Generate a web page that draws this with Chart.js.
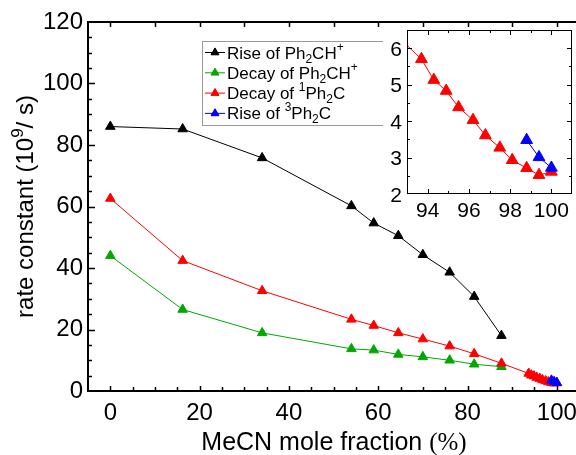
<!DOCTYPE html>
<html>
<head>
<meta charset="utf-8">
<script src="https://cdn.jsdelivr.net/npm/chart.js@4.4.1/dist/chart.umd.min.js"></script>
<style>
body{margin:0;background:#fff;}
#wrap{position:relative;width:576px;height:455px;}
#inset{position:absolute;left:383px;top:27px;}
</style>
</head>
<body>
<div id="wrap">
<canvas id="main" width="576" height="455"></canvas>
<canvas id="inset" width="193" height="198"></canvas>
</div>
<script>
// MeCN mole fraction (%)
const mole = [0, 16.2, 34, 54, 59, 64.5, 70, 76, 81.5, 87.6];
const moleRich = [93.7, 94.3, 94.9, 95.5, 96.2, 96.8, 97.5, 98.1, 98.8, 99.4, 100];
const moleTriplet = [98.8, 99.4, 100];

// rate constants (10^9 / s)
const riseCation = [86, 85.2, 75.8, 60.2, 54.6, 50.5, 44.3, 38.6, 30.7, 18];
const decayCation = [44, 26.5, 18.9, 13.7, 13.3, 11.9, 11.1, 10.0, 8.7, 7.9];
const decaySinglet = [62.6, 42.4, 32.6, 23.3, 21.3, 18.9, 16.9, 14.6, 12.1, 9.0,
                      5.70, 5.13, 4.83, 4.38, 4.03, 3.61, 3.27, 2.93, 2.71, 2.52, 2.61];
const riseTriplet = [3.48, 3.01, 2.72];

const seriesNames = ['Rise of Ph_2CH^+', 'Decay of Ph_2CH^+', 'Decay of ^1Ph_2C', 'Rise of ^3Ph_2C'];
const seriesColors = ['#000000', '#00a800', '#ff0000', '#0000ff'];

const xTicks = [0, 20, 40, 60, 80, 100];
const yTicks = [0, 20, 40, 60, 80, 100, 120];
const insetXTicks = [94, 96, 98, 100];
const insetYTicks = [2, 3, 4, 5, 6];

const FAMILY = '"Liberation Sans", Arial, sans-serif';

function pts(xs, ys){
    return ys.map((y, i) => ({x: xs[i], y: y}));
}

function parseRich(s){
    const out = [];
    let buf = '';
    for(let i = 0; i < s.length; i++){
        const ch = s[i];
        if((ch === '_' || ch === '^') && i + 1 < s.length){
            if(buf){ out.push({t: buf, k: 'n'}); buf = ''; }
            out.push({t: s[i+1], k: ch === '_' ? 'sub' : 'sup'});
            i++;
        } else buf += ch;
    }
    if(buf) out.push({t: buf, k: 'n'});
    return out;
}

function drawRich(ctx, parts, x, y, o, measureOnly){
    let cx = x;
    parts.forEach(p => {
        const fs = p.k === 'n' ? o.size : o.small;
        ctx.font = fs + 'px ' + (p.fam || FAMILY);
        const dy = p.k === 'sub' ? o.subDy : p.k === 'sup' ? o.supDy : 0;
        if(!measureOnly) ctx.fillText(p.t, cx, y + dy);
        cx += ctx.measureText(p.t).width;
    });
    return cx - x;
}

function drawTicks(ctx, scale, from, to, step, majorEvery, pos, edge, lenMajor, lenMinor){
    for(let v = from; v <= to + 1e-9; v += step){
        const p = Math.round(scale.getPixelForValue(v)) + 0.5;
        const major = Math.abs(v / majorEvery - Math.round(v / majorEvery)) < 1e-6;
        const len = major ? lenMajor : lenMinor;
        ctx.beginPath();
        if(pos === 'left'){ ctx.moveTo(edge, p); ctx.lineTo(edge + len, p); }
        if(pos === 'right'){ ctx.moveTo(edge, p); ctx.lineTo(edge - len, p); }
        if(pos === 'bottom'){ ctx.moveTo(p, edge); ctx.lineTo(p, edge - len); }
        if(pos === 'top'){ ctx.moveTo(p, edge); ctx.lineTo(p, edge + len); }
        ctx.stroke();
    }
}

function dataset(i, data, order, radius){
    return {
        label: seriesNames[i],
        data: data,
        borderColor: seriesColors[i],
        backgroundColor: seriesColors[i],
        borderWidth: 1,
        pointStyle: 'triangle',
        pointRadius: radius,
        pointBorderWidth: 1,
        order: order
    };
}

const framePlugin = {
    id: 'mainFrame',
    afterDraw(chart){
        const ctx = chart.ctx;
        const a = chart.chartArea;
        const sx = chart.scales.x, sy = chart.scales.y;
        ctx.save();
        ctx.strokeStyle = '#000';
        ctx.lineWidth = 2;
        ctx.beginPath();
        ctx.moveTo(576, a.top); ctx.lineTo(a.left, a.top);
        ctx.lineTo(a.left, a.bottom); ctx.lineTo(576, a.bottom);
        ctx.stroke();
        ctx.lineWidth = 1.5;
        drawTicks(ctx, sy, 5, 115, 5, 20, 'left', a.left, 7, 4);
        drawTicks(ctx, sx, 0, 100, 5, 20, 'bottom', a.bottom, 5, 4);
        drawTicks(ctx, sx, 0, 100, 10, 20, 'top', a.top, 5, 5);

        // legend
        ctx.lineWidth = 1;
        ctx.strokeStyle = '#9a9a9a';
        ctx.fillStyle = '#fff';
        ctx.fillRect(202.5, 41.5, 200, 84);
        ctx.strokeRect(202.5, 41.5, 200, 84);
        seriesNames.forEach((name, i) => {
            const base = 58.5 + i * 20.3;
            const cy = base - 6;
            ctx.strokeStyle = seriesColors[i];
            ctx.fillStyle = seriesColors[i];
            ctx.beginPath(); ctx.moveTo(205, cy); ctx.lineTo(225, cy); ctx.stroke();
            Chart.helpers.drawPoint(ctx, {pointStyle: 'triangle', radius: 4.6, borderWidth: 1}, 215, cy);
            ctx.fill();
            ctx.fillStyle = '#000';
            ctx.textBaseline = 'alphabetic';
            ctx.textAlign = 'left';
            drawRich(ctx, parseRich(name), 227, base, {size: 17, small: 12, subDy: 4, supDy: -8});
        });

        // axis titles
        ctx.fillStyle = '#000';
        ctx.textAlign = 'left';
        ctx.textBaseline = 'alphabetic';
        const yParts = parseRich('rate constant (10^9/ s)');
        const yo = {size: 24, small: 17, subDy: 4, supDy: -10};
        ctx.save();
        ctx.translate(33, 206.5);
        ctx.rotate(-Math.PI / 2);
        const yw = drawRich(ctx, yParts, 0, 0, yo, true);
        drawRich(ctx, yParts, -yw / 2, 0, yo);
        ctx.restore();

        const xParts = [{t: 'MeCN mole fraction ', k: 'n'}, {t: '(%)', k: 'n', fam: '"Liberation Serif", serif'}];
        const xo = {size: 25, small: 17, subDy: 4, supDy: -10};
        const xw = drawRich(ctx, xParts, 0, 0, xo, true);
        drawRich(ctx, xParts, 334 - xw / 2, 450, xo);
        ctx.restore();
    }
};

const insetPlugin = {
    id: 'insetFrame',
    beforeDraw(chart){
        const ctx = chart.ctx;
        ctx.save();
        ctx.fillStyle = '#fff';
        ctx.fillRect(0, 0, chart.width, chart.height);
        ctx.restore();
    },
    afterDraw(chart){
        const ctx = chart.ctx;
        const a = chart.chartArea;
        const sx = chart.scales.x, sy = chart.scales.y;
        ctx.save();
        ctx.strokeStyle = '#000';
        ctx.lineWidth = 1;
        ctx.strokeRect(a.left + 0.5, a.top + 0.5, a.right - a.left - 1, a.bottom - a.top - 1);
        drawTicks(ctx, sy, 2.5, 6.5, 0.5, 1, 'left', a.left, 5, 3);
        drawTicks(ctx, sy, 2.5, 6.5, 0.5, 1, 'right', a.right, 5, 3);
        drawTicks(ctx, sx, 94, 100, 1, 2, 'bottom', a.bottom, 5, 3);
        drawTicks(ctx, sx, 94, 100, 1, 2, 'top', a.top, 5, 3);
        ctx.restore();
    }
};

function axis(min, max, ticks, size, padding, fit){
    return {
        type: 'linear',
        min: min,
        max: max,
        grid: {display: false, drawTicks: false},
        border: {display: false},
        ticks: {font: {family: FAMILY, size: size}, color: '#000', padding: padding,
                maxRotation: 0, autoSkip: false},
        afterBuildTicks: s => { s.ticks = ticks.map(v => ({value: v})); },
        afterFit: fit
    };
}

new Chart(document.getElementById('main'), {
    type: 'line',
    data: {
        datasets: [
            dataset(3, pts(moleTriplet, riseTriplet), 0, 5.5),
            dataset(2, pts(mole.concat(moleRich), decaySinglet), 1, 5.5),
            dataset(1, pts(mole, decayCation), 2, 5.5),
            dataset(0, pts(mole, riseCation), 3, 5.5)
        ]
    },
    options: {
        responsive: false,
        animation: false,
        layout: {autoPadding: false, padding: {top: 22, left: 0, right: 0, bottom: 0}},
        plugins: {legend: {display: false}, tooltip: {enabled: false}},
        scales: {
            x: axis(-5, 104.3, xTicks, 24, 8, s => { s.height = 64; s.paddingLeft = 0; s.paddingRight = 0; }),
            y: axis(0, 120, yTicks, 24, 5, s => { s.width = 88; s.paddingTop = 0; s.paddingBottom = 0; })
        }
    },
    plugins: [framePlugin]
});

const insetOpts = {
    responsive: false,
    animation: false,
    layout: {autoPadding: false, padding: {top: 3, left: 0, right: 4, bottom: 0}},
    plugins: {legend: {display: false}, tooltip: {enabled: false}},
    scales: {
        x: axis(93, 101, insetXTicks, 21, 5, s => { s.height = 31; s.paddingLeft = 0; s.paddingRight = 0; }),
        y: axis(2, 6.5, insetYTicks, 21, 5, s => { s.width = 24; s.paddingTop = 0; s.paddingBottom = 0; })
    }
};
insetOpts.scales.y.ticks.labelOffset = 2;

new Chart(document.getElementById('inset'), {
    type: 'line',
    data: {
        datasets: [
            dataset(3, pts(moleTriplet, riseTriplet), 0, 6.8),
            dataset(2, pts(mole.concat(moleRich), decaySinglet), 1, 6.8)
        ]
    },
    options: insetOpts,
    plugins: [insetPlugin]
});
</script>
</body>
</html>
